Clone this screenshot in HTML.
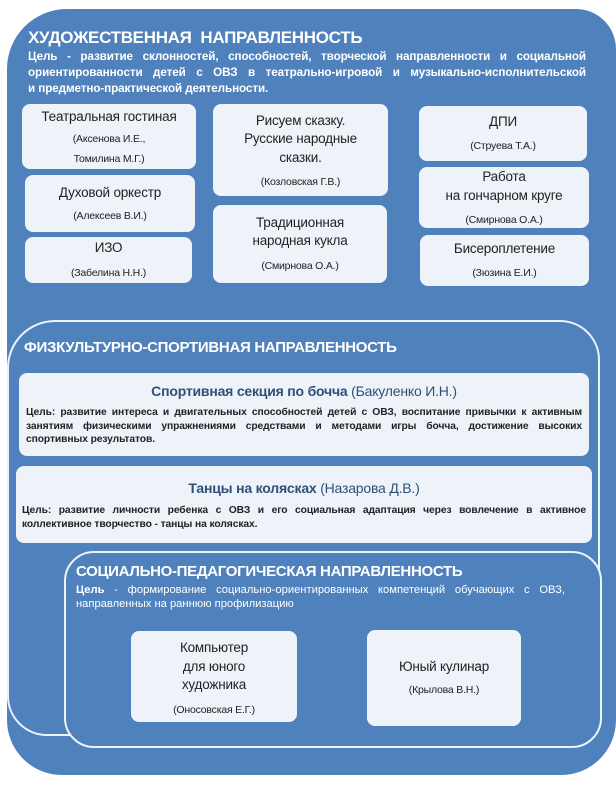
<!DOCTYPE html>
<html><head><meta charset="utf-8"><style>
*{margin:0;padding:0;box-sizing:border-box}
body{width:616px;height:785px;background:#fff;position:relative;overflow:hidden;font-family:"Liberation Sans","DejaVu Sans",sans-serif}
.a{position:absolute}
.outer{left:7px;top:9px;width:609px;height:766px;background:#4f81bd;border-radius:60px 40px 55px 55px}
.w{color:#fff;font-weight:bold}
.box{position:absolute;background:#eef2f9;border-radius:8px;color:#222}
.box div{position:absolute;left:0;right:0;text-align:center;line-height:16px;font-size:13.5px;white-space:nowrap;letter-spacing:-0.2px}
.box div.s{font-size:10.5px}
.ol{position:absolute;border:2px solid #eef2f9;}
.j{text-align:justify;text-align-last:justify;white-space:nowrap;overflow:hidden}
.box div.g{font-size:10.3px;font-weight:bold;color:#222;line-height:14px;letter-spacing:-0.1px;text-align:left;white-space:normal}
.box div.g p{ text-align:justify;text-align-last:justify;white-space:nowrap;overflow:hidden}
.box div.g p.l{text-align-last:left}
</style></head><body>
<div class="a outer"></div>
<div class="a w" style="left:28px;top:28px;font-size:17px;letter-spacing:-0.3px">ХУДОЖЕСТВЕННАЯ&nbsp; НАПРАВЛЕННОСТЬ</div>
<div class="a w" style="left:28px;top:49px;width:558px;font-size:11.7px;line-height:16px;letter-spacing:-0.1px">
<div class="j">Цель - развитие склонностей, способностей, творческой направленности и социальной</div>
<div class="j">ориентированности детей с ОВЗ в театрально-игровой и музыкально-исполнительской</div>
<div>и предметно-практической деятельности.</div></div>

<div class="box" style="left:22px;top:104px;width:174px;height:65px"><div style="top:5px">Театральная гостиная</div><div class="s" style="top:27px">(Аксенова И.Е.,</div><div class="s" style="top:47px">Томилина М.Г.)</div></div>
<div class="box" style="left:25px;top:175px;width:170px;height:57px"><div style="top:10px">Духовой оркестр</div><div class="s" style="top:33px">(Алексеев В.И.)</div></div>
<div class="box" style="left:25px;top:237px;width:167px;height:46px"><div style="top:3px">ИЗО</div><div class="s" style="top:28px">(Забелина Н.Н.)</div></div>

<div class="box" style="left:213px;top:104px;width:175px;height:92px"><div style="top:9px">Рисуем сказку.</div><div style="top:27px">Русские народные</div><div style="top:46px">сказки.</div><div class="s" style="top:70px">(Козловская Г.В.)</div></div>
<div class="box" style="left:213px;top:205px;width:174px;height:78px"><div style="top:10px">Традиционная</div><div style="top:28px">народная кукла</div><div class="s" style="top:53px">(Смирнова О.А.)</div></div>

<div class="box" style="left:419px;top:106px;width:168px;height:55px"><div style="top:8px">ДПИ</div><div class="s" style="top:32px">(Струева Т.А.)</div></div>
<div class="box" style="left:419px;top:167px;width:170px;height:61px"><div style="top:2px">Работа</div><div style="top:21px">на гончарном круге</div><div class="s" style="top:45px">(Смирнова О.А.)</div></div>
<div class="box" style="left:420px;top:235px;width:169px;height:51px"><div style="top:6px">Бисероплетение</div><div class="s" style="top:30px">(Зюзина Е.И.)</div></div>

<div class="ol" style="left:7px;top:320px;width:593px;height:416px;border-radius:48px 40px 30px 40px"></div>
<div class="a w" style="left:24px;top:339px;font-size:15px;letter-spacing:-0.3px">ФИЗКУЛЬТУРНО-СПОРТИВНАЯ НАПРАВЛЕННОСТЬ</div>

<div class="box" style="left:19px;top:373px;width:570px;height:83px">
<div style="top:10px;color:#2f4f7a;font-size:14px"><b>Спортивная секция по бочча</b> (Бакуленко И.Н.)</div>
<div class="g" style="top:33px;left:7px;right:7px;line-height:13.5px"><p>Цель: развитие интереса и двигательных способностей детей с ОВЗ, воспитание привычки к активным</p><p>занятиям физическими упражнениями средствами и методами игры бочча, достижение высоких</p><p class="l">спортивных результатов.</p></div></div>

<div class="box" style="left:16px;top:466px;width:576px;height:77px">
<div style="top:14px;color:#2f4f7a;font-size:14px"><b>Танцы на колясках</b> (Назарова Д.В.)</div>
<div class="g" style="top:38px;left:6px;right:6px"><p>Цель: развитие личности ребенка с ОВЗ и его социальная адаптация через вовлечение в активное</p><p class="l">коллективное творчество - танцы на колясках.</p></div></div>

<div class="ol" style="left:64px;top:551px;width:538px;height:197px;border-radius:30px;background:#4f81bd"></div>
<div class="a w" style="left:76px;top:563px;font-size:15px;letter-spacing:-0.3px">СОЦИАЛЬНО-ПЕДАГОГИЧЕСКАЯ НАПРАВЛЕННОСТЬ</div>
<div class="a" style="left:76px;top:583px;width:489px;color:#fff;font-size:11.2px;line-height:14px">
<div class="j"><b>Цель</b> - формирование социально-ориентированных компетенций обучающих с ОВЗ,</div>
<div>направленных на раннюю профилизацию</div></div>

<div class="box" style="left:131px;top:631px;width:166px;height:91px"><div style="top:9px">Компьютер</div><div style="top:28px">для юного</div><div style="top:46px">художника</div><div class="s" style="top:71px">(Оносовская Е.Г.)</div></div>
<div class="box" style="left:367px;top:630px;width:154px;height:96px"><div style="top:29px">Юный кулинар</div><div class="s" style="top:52px">(Крылова В.Н.)</div></div>
</body></html>
